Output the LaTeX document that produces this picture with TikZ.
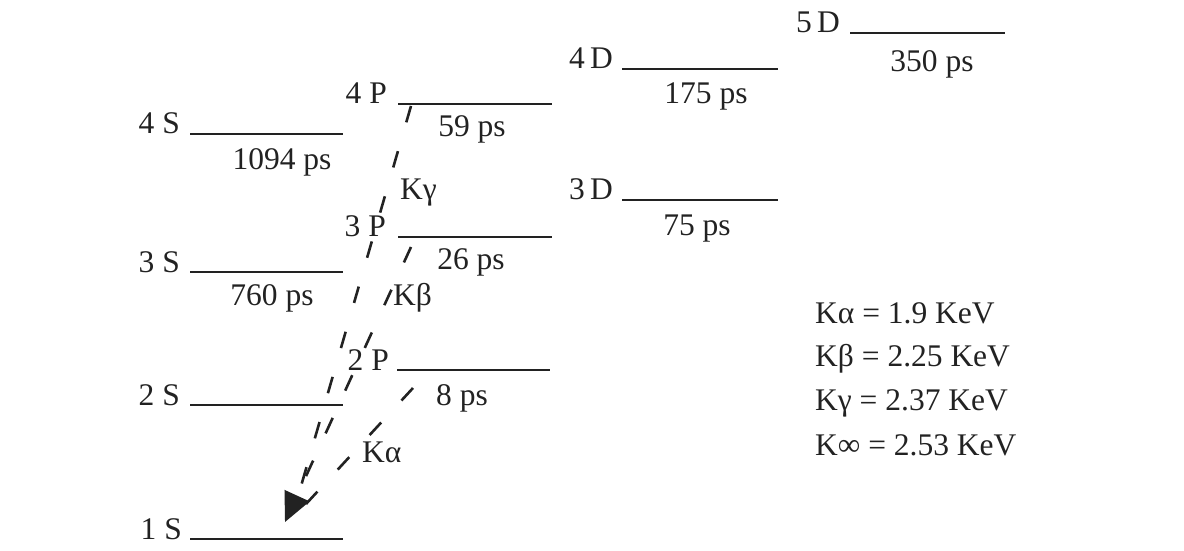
\documentclass[tikz,border=0pt]{standalone}
\usepackage{fontspec}
\setmainfont{Liberation Serif}
\usepackage{xcolor}
\usetikzlibrary{arrows.meta}
\definecolor{ink}{HTML}{222222}
\tikzset{
  lvl/.style={line width=1.9pt, draw=ink},
  lvname/.style={anchor=base east, font=\fontsize{31.5}{36}\selectfont, text=ink, inner sep=0pt},
  life/.style={anchor=base, font=\fontsize{31.5}{36}\selectfont, text=ink, inner sep=0pt},
  klab/.style={anchor=base west, font=\fontsize{31.5}{36}\selectfont, text=ink, inner sep=0pt},
  trans/.style={line width=2.6pt, draw=ink, dash pattern=on 17pt off 30pt},
}

\begin{document}
\begin{tikzpicture}[x=1pt, y=1pt]
  \useasboundingbox (0,0) rectangle (1184,550);
  % S levels
  \draw[lvl] (190,11)  coordinate (s1) -- (343,11);
  \draw[lvl] (190,145) coordinate (s2) -- (343,145);
  \draw[lvl] (190,278) coordinate (s3) -- (343,278);
  \draw[lvl] (190,416) coordinate (s4) -- (343,416);
  \node[lvname] (s1n) at ([xshift=-8pt]s1) {1 S};
  \node[lvname] (s2n) at ([xshift=-10pt]s2) {2 S};
  \node[lvname] (s3n) at ([xshift=-10pt]s3) {3 S};
  \node[lvname] (s4n) at ([xshift=-10pt]s4) {4 S};
  \node[life] (s3t) at (272,245) {760 ps};
  \node[life] (s4t) at (282,380) {1094 ps};
  % P levels
  \draw[lvl] (397,180) coordinate (p2) -- (550,180);
  \draw[lvl] (398,313) coordinate (p3) -- (552,313);
  \draw[lvl] (398,446) coordinate (p4) -- (552,446);
  \node[lvname] (p2n) at ([xshift=-8pt]p2) {2 P};
  \node[lvname] (p3n) at ([xshift=-12pt]p3) {3 P};
  \node[lvname] (p4n) at ([xshift=-11pt]p4) {4 P};
  \node[life] (p2t) at (462,145) {8 ps};
  \node[life] (p3t) at (471,280) {26 ps};
  \node[life] (p4t) at (472,413) {59 ps};
  % D levels
  \draw[lvl] (622,350) coordinate (d3) -- (778,350);
  \draw[lvl] (622,481) coordinate (d4) -- (778,481);
  \draw[lvl] (850,517) coordinate (d5) -- (1005,517);
  \node[lvname] (d3n) at ([xshift=-9pt]d3) {3\,D};
  \node[lvname] (d4n) at ([xshift=-9pt]d4) {4\,D};
  \node[lvname] (d5n) at ([xshift=-10pt]d5) {5\,D};
  \node[life] (d3t) at (697,315) {75 ps};
  \node[life] (d4t) at (706,446) {175 ps};
  \node[life] (d5t) at (932,478) {350 ps};
  % transitions to 1S
  \coordinate (g0) at (411,444);
  \coordinate (b0) at (411,303);
  \coordinate (a0) at (413,162);
  \coordinate (gend) at (297,50);
  \coordinate (aend) at (306,46);
  \coordinate (tip) at (285,28);
  \draw[trans] (g0) -- (gend);
  \draw[trans] (a0) -- (aend);
  \draw[trans, -{Triangle[length=29pt, width=27pt]}] (b0) -- (tip);
  \node[klab] (kg) at (400,350) {Kγ};
  \node[klab] (kb) at (393,245) {Kβ};
  \node[klab] (ka) at (362,88)  {Kα};
  % energies
  \node[klab] (ea) at (815,227) {Kα = 1.9 KeV};
  \node[klab] (eb) at (815,184) {Kβ = 2.25 KeV};
  \node[klab] (eg) at (815,140) {Kγ = 2.37 KeV};
  \node[klab] (ei) at (815,95)  {K∞ = 2.53 KeV};
\end{tikzpicture}
\end{document}
